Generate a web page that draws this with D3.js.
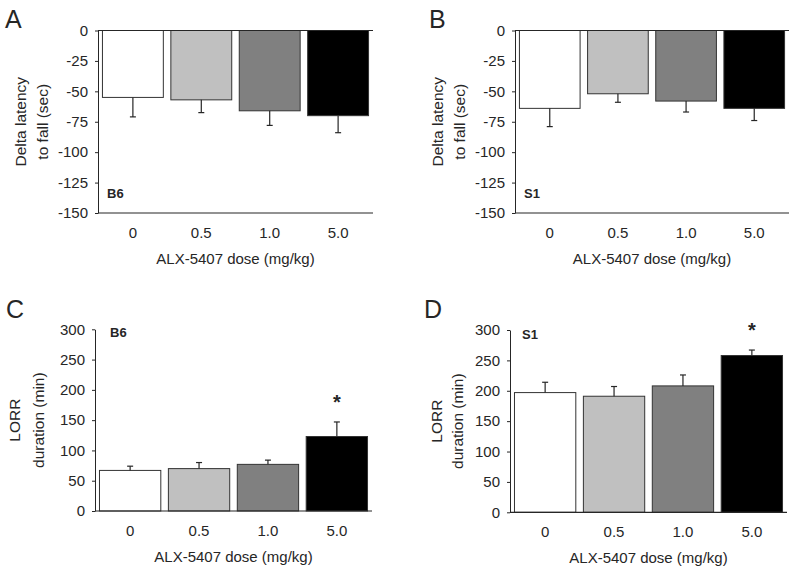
<!DOCTYPE html>
<html>
<head>
<meta charset="utf-8">
<script src="https://cdn.jsdelivr.net/npm/d3@7"></script>
<style>
  html, body { margin: 0; padding: 0; background: #fff; }
  svg { display: block; font-family: "Liberation Sans", Arial, sans-serif; }
</style>
</head>
<body>
<svg id="chart" width="800" height="579"></svg>
<script>
// ---- data ----
const doses = ["0", "0.5", "1.0", "5.0"];
const doseFills = ["#ffffff", "#c0c0c0", "#808080", "#000000"];

const latencyB6 = [-55, -57, -66, -70];
const latencyB6Err = [16, 10.5, 12, 14];
const latencyS1 = [-64, -52, -58, -64];
const latencyS1Err = [15, 7, 9, 10];

const lorrB6 = [67, 70, 77, 123];
const lorrB6Err = [7, 10, 7, 24];
const lorrS1 = [197, 191, 208, 258];
const lorrS1Err = [17, 16, 18, 9];

const sigB6 = [false, false, false, true];
const sigS1 = [false, false, false, true];

const latencyTicks = [0, -25, -50, -75, -100, -125, -150];
const lorrTicks = [0, 50, 100, 150, 200, 250, 300];

const xTitle = "ALX-5407 dose (mg/kg)";

// ---- panels (layout) ----
const panels = [
  { letter: "A", strain: "B6", vals: latencyB6, errs: latencyB6Err, sig: null,
    domain: [-150, 0], ticks: latencyTicks, yLab: ["Delta latency", "to fall (sec)"],
    x0: 98, x1: 373, y0: 30.5, y1: 213, letterPos: [5, 28], strainPos: [107, 198],
    yLabX: [21, 43], neg: true },
  { letter: "B", strain: "S1", vals: latencyS1, errs: latencyS1Err, sig: null,
    domain: [-150, 0], ticks: latencyTicks, yLab: ["Delta latency", "to fall (sec)"],
    x0: 515, x1: 789, y0: 30.5, y1: 213, letterPos: [429, 28], strainPos: [524, 198],
    yLabX: [438, 460], neg: true },
  { letter: "C", strain: "B6", vals: lorrB6, errs: lorrB6Err, sig: sigB6,
    domain: [0, 300], ticks: lorrTicks, yLab: ["LORR", "duration (min)"],
    x0: 95, x1: 372, y0: 329.3, y1: 511, letterPos: [6, 318], strainPos: [110, 337],
    yLabX: [15, 39], neg: false },
  { letter: "D", strain: "S1", vals: lorrS1, errs: lorrS1Err, sig: sigS1,
    domain: [0, 300], ticks: lorrTicks, yLab: ["LORR", "duration (min)"],
    x0: 510, x1: 787, y0: 330, y1: 512.3, letterPos: [424, 318], strainPos: [522, 339],
    yLabX: [437, 458], neg: false }
];

const svg = d3.select("#chart");
const ink = "#262626";
const fillScale = d3.scaleOrdinal().domain(doses).range(doseFills);

panels.forEach(p => {
  const g = svg.append("g");
  const x = d3.scaleBand().domain(doses).range([p.x0, p.x1])
    .paddingInner(0.11).paddingOuter(0.065);
  const y = d3.scaleLinear().domain(p.domain).range([p.y1, p.y0]);

  // bars
  g.selectAll("rect.bar").data(doses).enter().append("rect")
    .attr("class", "bar")
    .attr("x", d => x(d))
    .attr("width", x.bandwidth())
    .attr("y", (d, i) => Math.min(y(0), y(p.vals[i])))
    .attr("height", (d, i) => Math.abs(y(p.vals[i]) - y(0)))
    .attr("fill", d => fillScale(d))
    .attr("stroke", "#333")
    .attr("stroke-width", 1);

  // error bars (one-sided, away from zero)
  doses.forEach((d, i) => {
    const cx = x(d) + x.bandwidth() / 2;
    const v = p.vals[i];
    const e = p.neg ? v - p.errs[i] : v + p.errs[i];
    g.append("line").attr("x1", cx).attr("x2", cx)
      .attr("y1", y(v)).attr("y2", y(e))
      .attr("stroke", ink).attr("stroke-width", 1.2);
    g.append("line").attr("x1", cx - 3).attr("x2", cx + 3)
      .attr("y1", y(e)).attr("y2", y(e))
      .attr("stroke", ink).attr("stroke-width", 1.2);
    if (p.sig && p.sig[i]) {
      g.append("text").attr("x", cx).attr("y", y(e) - 24 + 11)
        .attr("text-anchor", "middle")
        .attr("font-size", 20).attr("font-weight", "bold")
        .attr("fill", ink).text("*");
    }
  });

  // y axis
  const ya = d3.axisLeft(y).tickValues(p.ticks).tickSize(3).tickSizeOuter(0).tickPadding(7)
    .tickFormat(v => String(v));
  const yg = g.append("g").attr("transform", `translate(${p.x0},0)`).call(ya);
  yg.select(".domain").attr("stroke", ink);
  yg.selectAll(".tick line").attr("stroke", ink);
  yg.selectAll(".tick text").attr("font-size", 15).attr("fill", ink)
    .attr("font-family", "'Liberation Sans', Arial, sans-serif");

  // horizontal axis lines
  g.append("line").attr("x1", p.x0).attr("x2", p.x1)
    .attr("y1", y(0)).attr("y2", y(0)).attr("stroke", ink).attr("stroke-width", 1.2);
  if (p.neg) {
    g.append("line").attr("x1", p.x0).attr("x2", p.x1)
      .attr("y1", y(p.domain[0])).attr("y2", y(p.domain[0]))
      .attr("stroke", ink).attr("stroke-width", 1.2);
  }

  // category labels
  g.selectAll("text.cat").data(doses).enter().append("text")
    .attr("class", "cat")
    .attr("x", d => x(d) + x.bandwidth() / 2)
    .attr("y", p.y1 + 25)
    .attr("text-anchor", "middle")
    .attr("font-size", 15).attr("fill", ink)
    .text(d => d);

  // x title
  g.append("text").attr("x", (p.x0 + p.x1) / 2).attr("y", p.y1 + 51)
    .attr("text-anchor", "middle").attr("font-size", 15).attr("fill", ink)
    .text(xTitle);

  // y title (two lines)
  const yc = (p.y0 + p.y1) / 2;
  p.yLab.forEach((t, k) => {
    g.append("text")
      .attr("transform", `translate(${p.yLabX[k]},${yc}) rotate(-90)`)
      .attr("text-anchor", "middle").attr("dy", "0.35em")
      .attr("font-size", 15.5).attr("fill", ink)
      .text(t);
  });

  // strain label
  g.append("text").attr("x", p.strainPos[0]).attr("y", p.strainPos[1])
    .attr("font-size", 13).attr("font-weight", "bold").attr("fill", ink)
    .text(p.strain);

  // panel letter
  g.append("text").attr("x", p.letterPos[0]).attr("y", p.letterPos[1])
    .attr("font-size", 25).attr("fill", ink)
    .text(p.letter);
});
</script>
</body>
</html>
